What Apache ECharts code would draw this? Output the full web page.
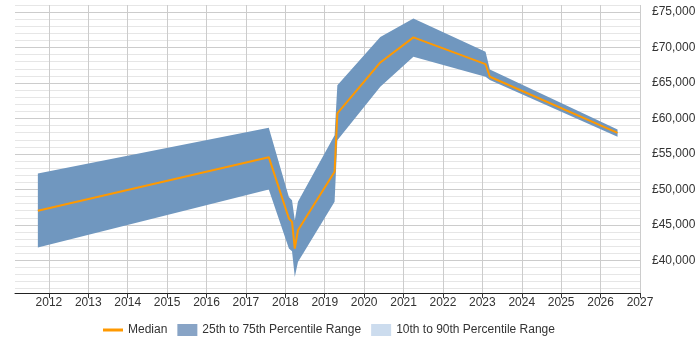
<!DOCTYPE html>
<html>
<head>
<meta charset="utf-8">
<script src="https://cdn.jsdelivr.net/npm/echarts@6/dist/echarts.min.js"></script>
<style>html,body{margin:0;padding:0;background:#fff}#c{width:700px;height:350px}</style>
</head>
<body>
<div id="c"></div>
<script>
// Data
const years  = [2011.72, 2017.58, 2018.09, 2018.17, 2018.24, 2018.32, 2019.25, 2019.32, 2020.41, 2021.25, 2023.08, 2023.19, 2026.43];
const median = [47000, 54550, 45900, 45430, 41670, 44250, 52500, 60710, 67900, 71430, 67670, 65880, 57980];
const p25    = [41800, 49990, 41670, 41290, 37670, 39780, 48250, 56950, 64460, 68700, 65880, 65410, 57410];
const p75    = [52250, 58680, 48950, 48480, 45660, 48250, 57650, 64700, 71500, 74110, 69400, 66900, 58450];
const xTicks = [2012, 2013, 2014, 2015, 2016, 2017, 2018, 2019, 2020, 2021, 2022, 2023, 2024, 2025, 2026, 2027];
const yMajorTicks = [40000, 45000, 50000, 55000, 60000, 65000, 70000, 75000];
const yMinorTicks = [36000,37000,38000,39000,40000,41000,42000,43000,44000,45000,46000,47000,48000,49000,50000,51000,52000,53000,54000,55000,56000,57000,58000,59000,60000,61000,62000,63000,64000,65000,66000,67000,68000,69000,70000,71000,72000,73000,74000,75000,76000];

const FONT = 'Liberation Sans, Arial, sans-serif';
const bandData = years.map((x, i) => [x, p25[i], p75[i]]);
const medData = years.map((x, i) => [x, median[i]]);

function renderBand(params, api) {
  if (params.dataIndex !== 0) return null;
  const pts = [];
  for (let i = 0; i < years.length; i++) pts.push(api.coord([years[i], p75[i]]));
  for (let i = years.length - 1; i >= 0; i--) pts.push(api.coord([years[i], p25[i]]));
  return {type: 'polygon', shape: {points: pts}, style: {fill: '#7097bf', stroke: null}};
}

const chart = echarts.init(document.getElementById('c'), null, {renderer: 'canvas'});
chart.setOption({
  animation: false,
  grid: {left: 15, right: 60, top: 5, bottom: 57, containLabel: false},
  xAxis: {
    type: 'value', min: 2011.14, max: 2027,
    axisLine: {show: true, lineStyle: {color: '#222', width: 1}},
    axisTick: {show: true, customValues: xTicks, length: 5, lineStyle: {color: '#333'}},
    axisLabel: {customValues: xTicks, margin: 4, color: '#333', fontSize: 12, fontFamily: FONT, formatter: v => String(Math.round(v))},
    splitLine: {show: true, lineStyle: {color: '#cccccc', width: 1}}
  },
  yAxis: [
    {
      type: 'value', min: 35400, max: 76000, position: 'right',
      axisLine: {show: false}, axisTick: {show: false, customValues: yMinorTicks},
      axisLabel: {show: false, customValues: yMinorTicks},
      splitLine: {show: true, lineStyle: {color: '#e6e6e6', width: 1}}
    },
    {
      type: 'value', min: 35400, max: 76000, position: 'right',
      axisLine: {show: false}, axisTick: {show: false, customValues: yMajorTicks},
      axisLabel: {customValues: yMajorTicks, margin: 12, color: '#333', fontSize: 12, fontFamily: FONT,
        formatter: v => '£' + v.toLocaleString('en-GB')},
      splitLine: {show: true, lineStyle: {color: '#cccccc', width: 1}}
    }
  ],
  legend: {
    left: 98, bottom: 9, itemWidth: 20, itemHeight: 12, itemGap: 10,
    textStyle: {fontSize: 12, color: '#333', fontFamily: FONT},
    data: [
      {name: 'Median', icon: 'path://M0,0 L20,0 L20,3 L0,3 Z', itemStyle: {color: '#ff9900'}},
      {name: '25th to 75th Percentile Range', icon: 'rect', itemStyle: {color: '#88a4c6'}},
      {name: '10th to 90th Percentile Range', icon: 'rect', itemStyle: {color: '#ccdcee'}}
    ]
  },
  series: [
    {name: '10th to 90th Percentile Range', type: 'line', data: [], itemStyle: {color: '#ccdcee'}},
    {name: '25th to 75th Percentile Range', type: 'custom', renderItem: renderBand, data: bandData,
      encode: {x: 0, y: [1, 2]}, itemStyle: {color: '#7097bf'}, z: 2},
    {name: 'Median', type: 'line', data: medData, symbol: 'none',
      lineStyle: {color: '#ff9900', width: 2}, itemStyle: {color: '#ff9900'}, z: 5}
  ]
});
</script>
</body>
</html>
